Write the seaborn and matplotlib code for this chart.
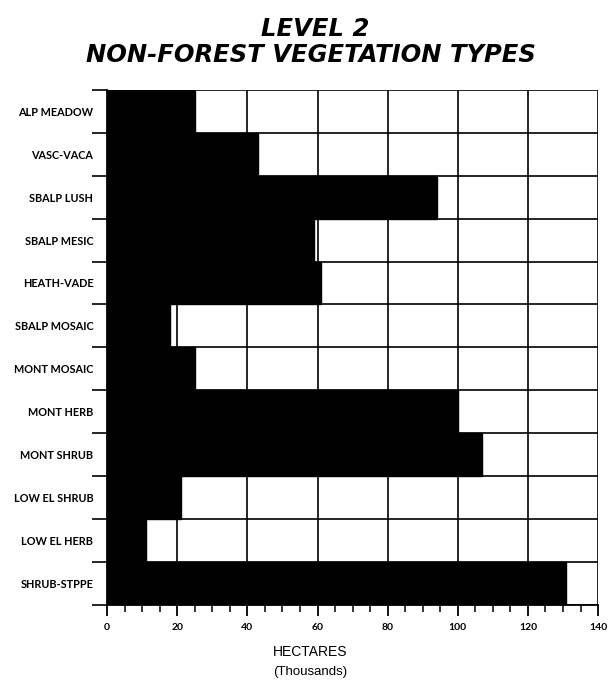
import matplotlib
matplotlib.use("Agg")
import matplotlib.pyplot as plt
import seaborn as sns
import pandas as pd
import numpy as np

# data (thousands of hectares)
veg_types = ["ALP MEADOW", "VASC-VACA", "SBALP LUSH", "SBALP MESIC", "HEATH-VADE",
             "SBALP MOSAIC", "MONT MOSAIC", "MONT HERB", "MONT SHRUB",
             "LOW EL SHRUB", "LOW EL HERB", "SHRUB-STPPE"]
hectares = [25, 43, 94, 59, 61, 18, 25, 100, 107, 21, 11, 131]
x_ticks = [0, 20, 40, 60, 80, 100, 120, 140]

df = pd.DataFrame({"type": veg_types, "hectares": hectares})

sns.set_style("white")
plt.rcParams["font.family"] = ["Lato", "DejaVu Sans"]
plt.rcParams["text.color"] = "black"
plt.rcParams["xtick.color"] = "black"
plt.rcParams["ytick.color"] = "black"
plt.rcParams["axes.edgecolor"] = "black"

fig = plt.figure(figsize=(6.09, 6.81), dpi=100)
ax = fig.add_axes([0.176, 0.112, 0.806, 0.756])

# grid first so bars sit on top
n = len(veg_types)
for b in np.arange(-0.5, n, 1.0):
    ax.axhline(b, color="black", lw=1.2, zorder=1)
for t in x_ticks[1:]:
    ax.axvline(t, color="black", lw=1.2, zorder=1)

sns.barplot(data=df, x="hectares", y="type", orient="h", color="black",
            width=1.0, saturation=1, edgecolor="black", ax=ax, zorder=3)

ax.set_xlim(0, 140)
ax.set_ylim(n - 0.5, -0.5)
ax.set_xticks(x_ticks)
ax.set_xticklabels([str(t) for t in x_ticks], fontsize=7.5, fontweight="bold")
ax.set_xticks(np.arange(0, 141, 5), minor=True)
ax.tick_params(axis="x", which="both", bottom=True)
ax.tick_params(axis="x", which="major", length=8, width=1.3, direction="out", pad=5)
ax.tick_params(axis="x", which="minor", length=5, width=1.1, direction="out")

# category labels centred, boundary ticks on the left
ax.set_yticks(range(n))
ax.set_yticklabels(veg_types, fontsize=7.8, fontweight="bold")
ax.set_yticks(np.arange(-0.5, n, 1.0), minor=True)
ax.tick_params(axis="y", which="both", left=True)
ax.tick_params(axis="y", which="major", length=0, pad=10)
ax.tick_params(axis="y", which="minor", length=11, width=1.2, direction="out")

for side in ["top", "right"]:
    ax.spines[side].set_visible(False)
ax.spines["left"].set_linewidth(1.3)
ax.spines["bottom"].set_linewidth(1.3)
ax.set_xlabel("")
ax.set_ylabel("")

title_font = dict(fontsize=17.5, fontweight="heavy", style="italic", color="black",
                  family=["DejaVu Sans"], ha="center", va="center")
fig.text(0.517, 0.958, "LEVEL 2", **title_font)
fig.text(0.511, 0.919, "NON-FOREST VEGETATION TYPES", **title_font)

fig.text(0.51, 0.043, "HECTARES", ha="center", va="center", fontsize=10,
         family=["Liberation Sans", "DejaVu Sans"])
fig.text(0.51, 0.013, "(Thousands)", ha="center", va="center", fontsize=9.5,
         family=["Liberation Sans", "DejaVu Sans"])

fig.savefig("out.png", dpi=100)
